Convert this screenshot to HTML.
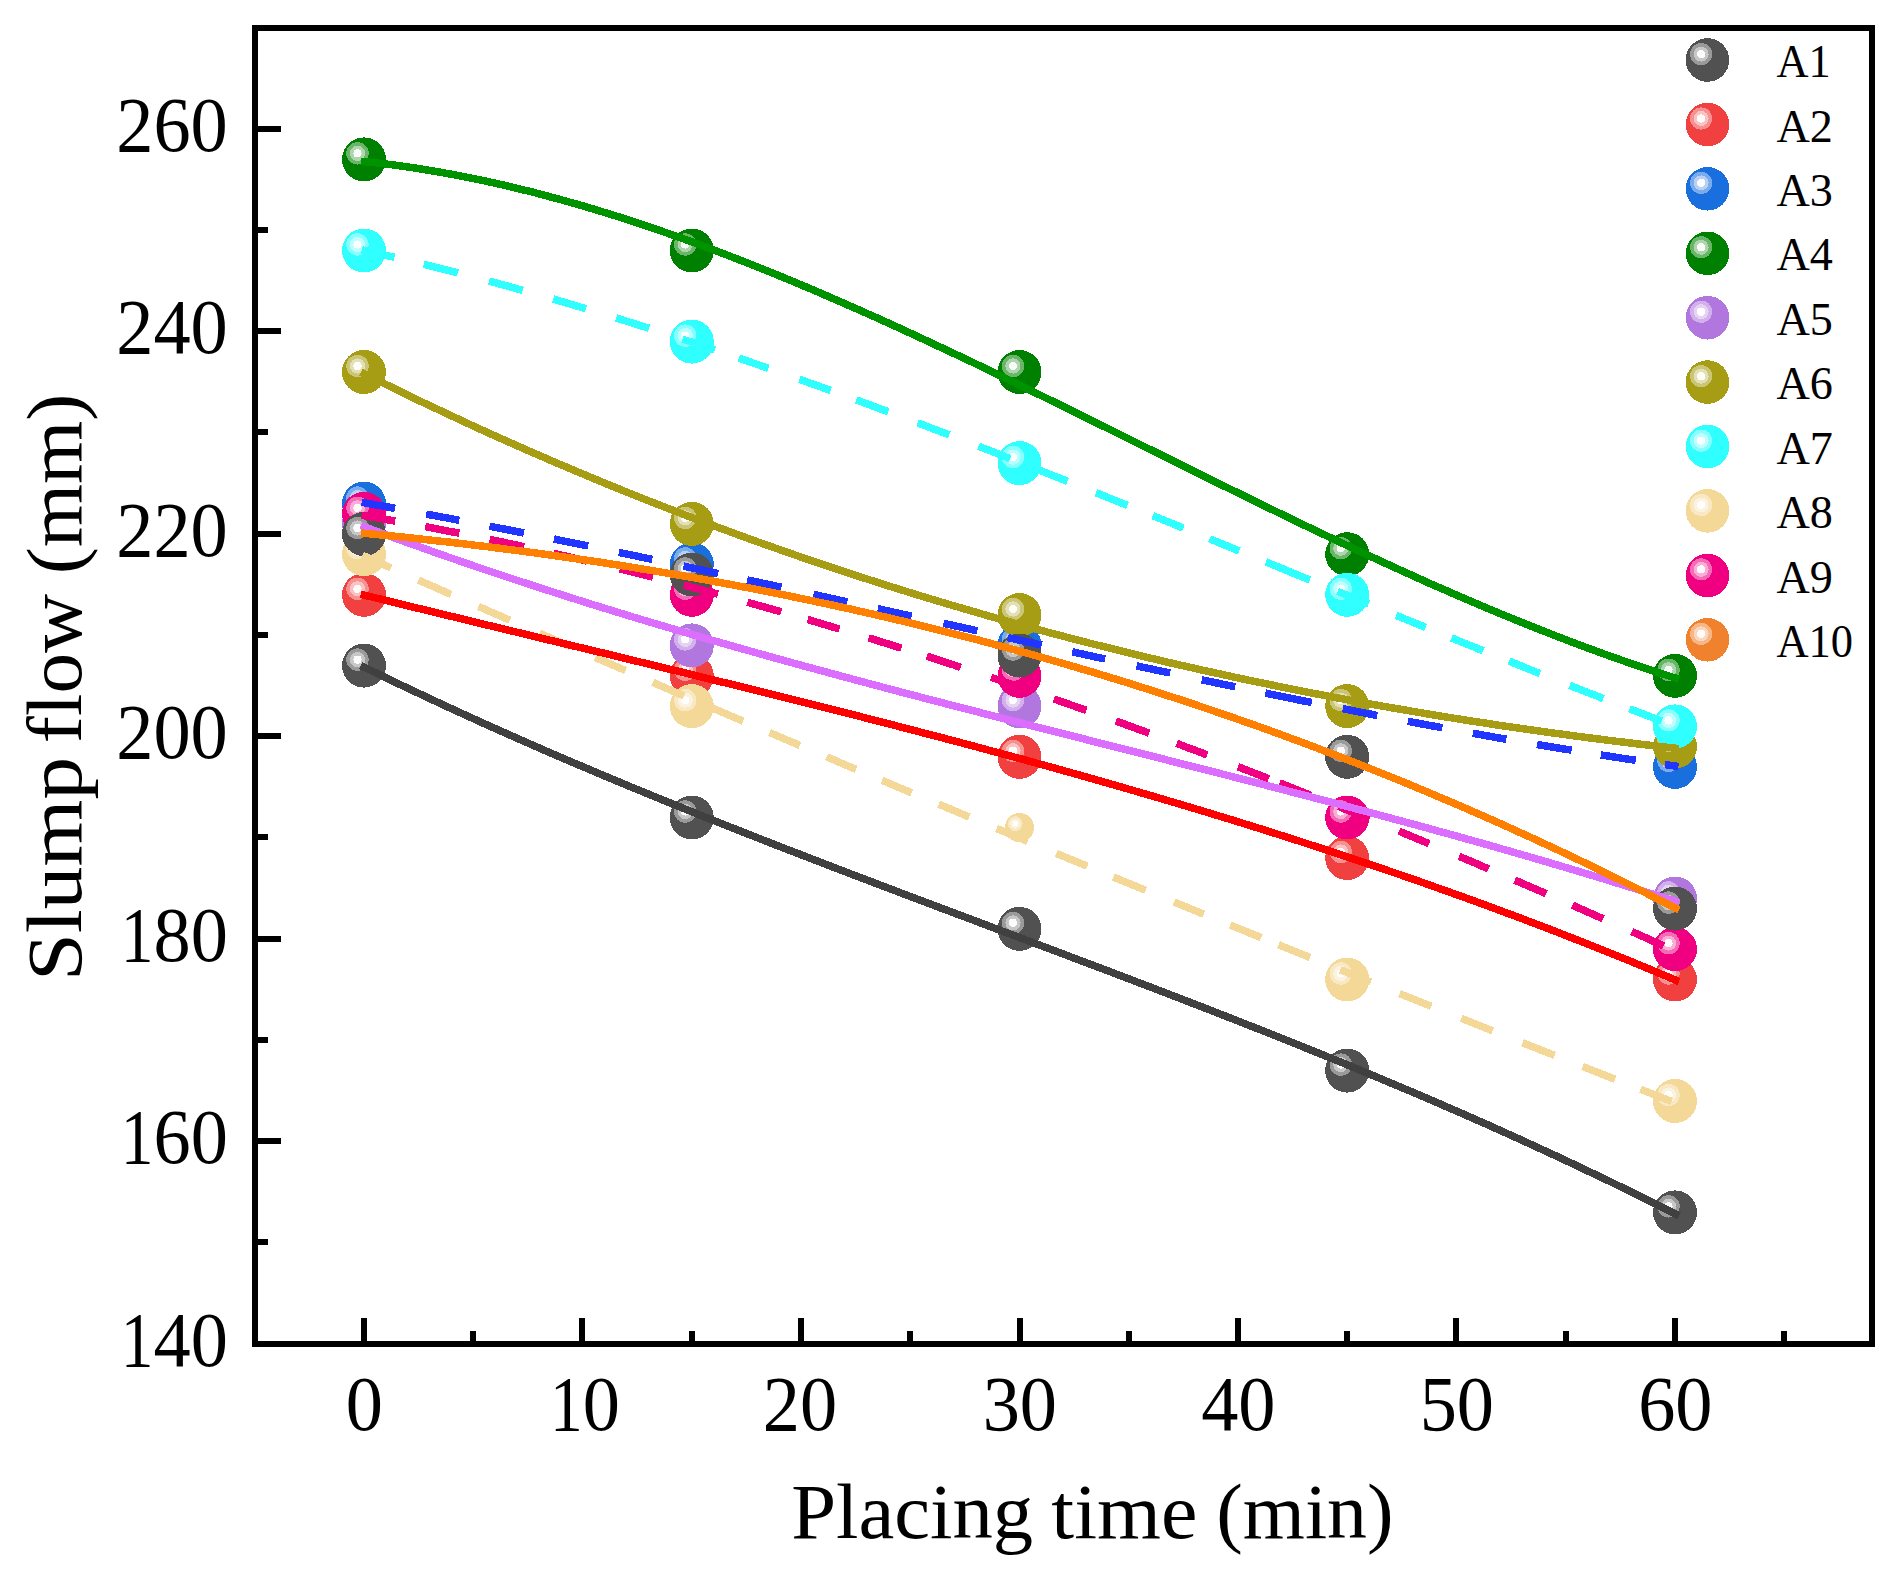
<!DOCTYPE html>
<html lang="en"><head><meta charset="utf-8"><title>Slump flow vs placing time</title>
<style>html,body{margin:0;padding:0;background:#fff}svg{display:block}text{font-family:"Liberation Serif",serif;fill:#000}</style></head><body>
<svg width="1903" height="1572" viewBox="0 0 1903 1572">
<rect width="1903" height="1572" fill="#fff"/>
<g id="markers" shape-rendering="crispEdges">
<g>
<circle cx="364.0" cy="665.6" r="22.0" fill="#515151"/><circle cx="357.5" cy="659.6" r="11.2" fill="#9A9A9A"/><circle cx="357.5" cy="659.6" r="7.6" fill="#C7C7C7"/><circle cx="357.5" cy="659.6" r="4.1" fill="#FCFCFC"/>
<circle cx="691.8" cy="817.5" r="22.0" fill="#515151"/><circle cx="685.2" cy="811.5" r="11.2" fill="#9A9A9A"/><circle cx="685.2" cy="811.5" r="7.6" fill="#C7C7C7"/><circle cx="685.2" cy="811.5" r="4.1" fill="#FCFCFC"/>
<circle cx="1019.5" cy="928.9" r="22.0" fill="#515151"/><circle cx="1013.0" cy="922.9" r="11.2" fill="#9A9A9A"/><circle cx="1013.0" cy="922.9" r="7.6" fill="#C7C7C7"/><circle cx="1013.0" cy="922.9" r="4.1" fill="#FCFCFC"/>
<circle cx="1347.2" cy="1070.6" r="22.0" fill="#515151"/><circle cx="1340.8" cy="1064.6" r="11.2" fill="#9A9A9A"/><circle cx="1340.8" cy="1064.6" r="7.6" fill="#C7C7C7"/><circle cx="1340.8" cy="1064.6" r="4.1" fill="#FCFCFC"/>
<circle cx="1675.0" cy="1212.4" r="22.0" fill="#515151"/><circle cx="1668.5" cy="1206.4" r="11.2" fill="#9A9A9A"/><circle cx="1668.5" cy="1206.4" r="7.6" fill="#C7C7C7"/><circle cx="1668.5" cy="1206.4" r="4.1" fill="#FCFCFC"/>
</g>
<g>
<circle cx="364.0" cy="594.8" r="22.0" fill="#F14040"/><circle cx="357.5" cy="588.8" r="11.2" fill="#F79090"/><circle cx="357.5" cy="588.8" r="7.6" fill="#FBC2C2"/><circle cx="357.5" cy="588.8" r="4.1" fill="#FFFBFB"/>
<circle cx="691.8" cy="675.8" r="22.0" fill="#F14040"/><circle cx="685.2" cy="669.8" r="11.2" fill="#F79090"/><circle cx="685.2" cy="669.8" r="7.6" fill="#FBC2C2"/><circle cx="685.2" cy="669.8" r="4.1" fill="#FFFBFB"/>
<circle cx="1019.5" cy="756.8" r="22.0" fill="#F14040"/><circle cx="1013.0" cy="750.8" r="11.2" fill="#F79090"/><circle cx="1013.0" cy="750.8" r="7.6" fill="#FBC2C2"/><circle cx="1013.0" cy="750.8" r="4.1" fill="#FFFBFB"/>
<circle cx="1347.2" cy="858.0" r="22.0" fill="#F14040"/><circle cx="1340.8" cy="852.0" r="11.2" fill="#F79090"/><circle cx="1340.8" cy="852.0" r="7.6" fill="#FBC2C2"/><circle cx="1340.8" cy="852.0" r="4.1" fill="#FFFBFB"/>
<circle cx="1675.0" cy="979.5" r="22.0" fill="#F14040"/><circle cx="1668.5" cy="973.5" r="11.2" fill="#F79090"/><circle cx="1668.5" cy="973.5" r="7.6" fill="#FBC2C2"/><circle cx="1668.5" cy="973.5" r="4.1" fill="#FFFBFB"/>
</g>
<g>
<circle cx="364.0" cy="503.6" r="22.0" fill="#1A6FDF"/><circle cx="357.5" cy="497.6" r="11.2" fill="#7AABEC"/><circle cx="357.5" cy="497.6" r="7.6" fill="#B6D1F5"/><circle cx="357.5" cy="497.6" r="4.1" fill="#FAFCFE"/>
<circle cx="691.8" cy="564.4" r="22.0" fill="#1A6FDF"/><circle cx="685.2" cy="558.4" r="11.2" fill="#7AABEC"/><circle cx="685.2" cy="558.4" r="7.6" fill="#B6D1F5"/><circle cx="685.2" cy="558.4" r="4.1" fill="#FAFCFE"/>
<circle cx="1019.5" cy="645.4" r="22.0" fill="#1A6FDF"/><circle cx="1013.0" cy="639.4" r="11.2" fill="#7AABEC"/><circle cx="1013.0" cy="639.4" r="7.6" fill="#B6D1F5"/><circle cx="1013.0" cy="639.4" r="4.1" fill="#FAFCFE"/>
<circle cx="1347.2" cy="706.1" r="22.0" fill="#1A6FDF"/><circle cx="1340.8" cy="700.1" r="11.2" fill="#7AABEC"/><circle cx="1340.8" cy="700.1" r="7.6" fill="#B6D1F5"/><circle cx="1340.8" cy="700.1" r="4.1" fill="#FAFCFE"/>
<circle cx="1675.0" cy="766.9" r="22.0" fill="#1A6FDF"/><circle cx="1668.5" cy="760.9" r="11.2" fill="#7AABEC"/><circle cx="1668.5" cy="760.9" r="7.6" fill="#B6D1F5"/><circle cx="1668.5" cy="760.9" r="4.1" fill="#FAFCFE"/>
</g>
<g>
<circle cx="364.0" cy="159.4" r="22.0" fill="#008000"/><circle cx="357.5" cy="153.4" r="11.2" fill="#6BB56B"/><circle cx="357.5" cy="153.4" r="7.6" fill="#ADD6AD"/><circle cx="357.5" cy="153.4" r="4.1" fill="#FAFCFA"/>
<circle cx="691.8" cy="250.5" r="22.0" fill="#008000"/><circle cx="685.2" cy="244.5" r="11.2" fill="#6BB56B"/><circle cx="685.2" cy="244.5" r="7.6" fill="#ADD6AD"/><circle cx="685.2" cy="244.5" r="4.1" fill="#FAFCFA"/>
<circle cx="1019.5" cy="372.0" r="22.0" fill="#008000"/><circle cx="1013.0" cy="366.0" r="11.2" fill="#6BB56B"/><circle cx="1013.0" cy="366.0" r="7.6" fill="#ADD6AD"/><circle cx="1013.0" cy="366.0" r="4.1" fill="#FAFCFA"/>
<circle cx="1347.2" cy="554.2" r="22.0" fill="#008000"/><circle cx="1340.8" cy="548.2" r="11.2" fill="#6BB56B"/><circle cx="1340.8" cy="548.2" r="7.6" fill="#ADD6AD"/><circle cx="1340.8" cy="548.2" r="4.1" fill="#FAFCFA"/>
<circle cx="1675.0" cy="675.8" r="22.0" fill="#008000"/><circle cx="1668.5" cy="669.8" r="11.2" fill="#6BB56B"/><circle cx="1668.5" cy="669.8" r="7.6" fill="#ADD6AD"/><circle cx="1668.5" cy="669.8" r="4.1" fill="#FAFCFA"/>
</g>
<g>
<circle cx="364.0" cy="523.9" r="22.0" fill="#B177DE"/><circle cx="357.5" cy="517.9" r="11.2" fill="#D2B0EC"/><circle cx="357.5" cy="517.9" r="7.6" fill="#E6D3F4"/><circle cx="357.5" cy="517.9" r="4.1" fill="#FDFCFE"/>
<circle cx="691.8" cy="645.4" r="22.0" fill="#B177DE"/><circle cx="685.2" cy="639.4" r="11.2" fill="#D2B0EC"/><circle cx="685.2" cy="639.4" r="7.6" fill="#E6D3F4"/><circle cx="685.2" cy="639.4" r="4.1" fill="#FDFCFE"/>
<circle cx="1019.5" cy="706.1" r="22.0" fill="#B177DE"/><circle cx="1013.0" cy="700.1" r="11.2" fill="#D2B0EC"/><circle cx="1013.0" cy="700.1" r="7.6" fill="#E6D3F4"/><circle cx="1013.0" cy="700.1" r="4.1" fill="#FDFCFE"/>
<circle cx="1347.2" cy="817.5" r="22.0" fill="#B177DE"/><circle cx="1340.8" cy="811.5" r="11.2" fill="#D2B0EC"/><circle cx="1340.8" cy="811.5" r="7.6" fill="#E6D3F4"/><circle cx="1340.8" cy="811.5" r="4.1" fill="#FDFCFE"/>
<circle cx="1675.0" cy="898.5" r="22.0" fill="#B177DE"/><circle cx="1668.5" cy="892.5" r="11.2" fill="#D2B0EC"/><circle cx="1668.5" cy="892.5" r="7.6" fill="#E6D3F4"/><circle cx="1668.5" cy="892.5" r="4.1" fill="#FDFCFE"/>
</g>
<g>
<circle cx="364.0" cy="372.0" r="22.0" fill="#A69D14"/><circle cx="357.5" cy="366.0" r="11.2" fill="#CBC677"/><circle cx="357.5" cy="366.0" r="7.6" fill="#E3E0B4"/><circle cx="357.5" cy="366.0" r="4.1" fill="#FDFDFA"/>
<circle cx="691.8" cy="523.9" r="22.0" fill="#A69D14"/><circle cx="685.2" cy="517.9" r="11.2" fill="#CBC677"/><circle cx="685.2" cy="517.9" r="7.6" fill="#E3E0B4"/><circle cx="685.2" cy="517.9" r="4.1" fill="#FDFDFA"/>
<circle cx="1019.5" cy="615.0" r="22.0" fill="#A69D14"/><circle cx="1013.0" cy="609.0" r="11.2" fill="#CBC677"/><circle cx="1013.0" cy="609.0" r="7.6" fill="#E3E0B4"/><circle cx="1013.0" cy="609.0" r="4.1" fill="#FDFDFA"/>
<circle cx="1347.2" cy="706.1" r="22.0" fill="#A69D14"/><circle cx="1340.8" cy="700.1" r="11.2" fill="#CBC677"/><circle cx="1340.8" cy="700.1" r="7.6" fill="#E3E0B4"/><circle cx="1340.8" cy="700.1" r="4.1" fill="#FDFDFA"/>
<circle cx="1675.0" cy="746.6" r="22.0" fill="#A69D14"/><circle cx="1668.5" cy="740.6" r="11.2" fill="#CBC677"/><circle cx="1668.5" cy="740.6" r="7.6" fill="#E3E0B4"/><circle cx="1668.5" cy="740.6" r="4.1" fill="#FDFDFA"/>
</g>
<g>
<circle cx="364.0" cy="250.5" r="22.0" fill="#30FFFF"/><circle cx="357.5" cy="244.5" r="11.2" fill="#87FFFF"/><circle cx="357.5" cy="244.5" r="7.6" fill="#BDFFFF"/><circle cx="357.5" cy="244.5" r="4.1" fill="#FBFFFF"/>
<circle cx="691.8" cy="341.6" r="22.0" fill="#30FFFF"/><circle cx="685.2" cy="335.6" r="11.2" fill="#87FFFF"/><circle cx="685.2" cy="335.6" r="7.6" fill="#BDFFFF"/><circle cx="685.2" cy="335.6" r="4.1" fill="#FBFFFF"/>
<circle cx="1019.5" cy="463.1" r="22.0" fill="#30FFFF"/><circle cx="1013.0" cy="457.1" r="11.2" fill="#87FFFF"/><circle cx="1013.0" cy="457.1" r="7.6" fill="#BDFFFF"/><circle cx="1013.0" cy="457.1" r="4.1" fill="#FBFFFF"/>
<circle cx="1347.2" cy="594.8" r="22.0" fill="#30FFFF"/><circle cx="1340.8" cy="588.8" r="11.2" fill="#87FFFF"/><circle cx="1340.8" cy="588.8" r="7.6" fill="#BDFFFF"/><circle cx="1340.8" cy="588.8" r="4.1" fill="#FBFFFF"/>
<circle cx="1675.0" cy="726.4" r="22.0" fill="#30FFFF"/><circle cx="1668.5" cy="720.4" r="11.2" fill="#87FFFF"/><circle cx="1668.5" cy="720.4" r="7.6" fill="#BDFFFF"/><circle cx="1668.5" cy="720.4" r="4.1" fill="#FBFFFF"/>
</g>
<g>
<circle cx="364.0" cy="554.2" r="22.0" fill="#F3D898"/><circle cx="357.5" cy="548.2" r="11.2" fill="#F8E8C3"/><circle cx="357.5" cy="548.2" r="7.6" fill="#FBF3DE"/><circle cx="357.5" cy="548.2" r="4.1" fill="#FFFEFD"/>
<circle cx="691.8" cy="706.1" r="22.0" fill="#F3D898"/><circle cx="685.2" cy="700.1" r="11.2" fill="#F8E8C3"/><circle cx="685.2" cy="700.1" r="7.6" fill="#FBF3DE"/><circle cx="685.2" cy="700.1" r="4.1" fill="#FFFEFD"/>
<circle cx="1019.5" cy="827.6" r="14.5" fill="#F3D898"/><circle cx="1015.2" cy="823.7" r="7.4" fill="#F8E8C3"/><circle cx="1015.2" cy="823.7" r="5.0" fill="#FBF3DE"/><circle cx="1015.2" cy="823.7" r="2.7" fill="#FFFEFD"/>
<circle cx="1347.2" cy="979.5" r="22.0" fill="#F3D898"/><circle cx="1340.8" cy="973.5" r="11.2" fill="#F8E8C3"/><circle cx="1340.8" cy="973.5" r="7.6" fill="#FBF3DE"/><circle cx="1340.8" cy="973.5" r="4.1" fill="#FFFEFD"/>
<circle cx="1675.0" cy="1101.0" r="22.0" fill="#F3D898"/><circle cx="1668.5" cy="1095.0" r="11.2" fill="#F8E8C3"/><circle cx="1668.5" cy="1095.0" r="7.6" fill="#FBF3DE"/><circle cx="1668.5" cy="1095.0" r="4.1" fill="#FFFEFD"/>
</g>
<g>
<circle cx="364.0" cy="513.8" r="22.0" fill="#F00080"/><circle cx="357.5" cy="507.8" r="11.2" fill="#F66BB5"/><circle cx="357.5" cy="507.8" r="7.6" fill="#FAADD6"/><circle cx="357.5" cy="507.8" r="4.1" fill="#FFFAFC"/>
<circle cx="691.8" cy="594.8" r="22.0" fill="#F00080"/><circle cx="685.2" cy="588.8" r="11.2" fill="#F66BB5"/><circle cx="685.2" cy="588.8" r="7.6" fill="#FAADD6"/><circle cx="685.2" cy="588.8" r="4.1" fill="#FFFAFC"/>
<circle cx="1019.5" cy="675.8" r="22.0" fill="#F00080"/><circle cx="1013.0" cy="669.8" r="11.2" fill="#F66BB5"/><circle cx="1013.0" cy="669.8" r="7.6" fill="#FAADD6"/><circle cx="1013.0" cy="669.8" r="4.1" fill="#FFFAFC"/>
<circle cx="1347.2" cy="817.5" r="22.0" fill="#F00080"/><circle cx="1340.8" cy="811.5" r="11.2" fill="#F66BB5"/><circle cx="1340.8" cy="811.5" r="7.6" fill="#FAADD6"/><circle cx="1340.8" cy="811.5" r="4.1" fill="#FFFAFC"/>
<circle cx="1675.0" cy="949.1" r="22.0" fill="#F00080"/><circle cx="1668.5" cy="943.1" r="11.2" fill="#F66BB5"/><circle cx="1668.5" cy="943.1" r="7.6" fill="#FAADD6"/><circle cx="1668.5" cy="943.1" r="4.1" fill="#FFFAFC"/>
</g>
<g>
<circle cx="364.0" cy="534.0" r="22.0" fill="#515151"/><circle cx="357.5" cy="528.0" r="11.2" fill="#9A9A9A"/><circle cx="357.5" cy="528.0" r="7.6" fill="#C7C7C7"/><circle cx="357.5" cy="528.0" r="4.1" fill="#FCFCFC"/>
<circle cx="691.8" cy="574.5" r="22.0" fill="#515151"/><circle cx="685.2" cy="568.5" r="11.2" fill="#9A9A9A"/><circle cx="685.2" cy="568.5" r="7.6" fill="#C7C7C7"/><circle cx="685.2" cy="568.5" r="4.1" fill="#FCFCFC"/>
<circle cx="1019.5" cy="655.5" r="22.0" fill="#515151"/><circle cx="1013.0" cy="649.5" r="11.2" fill="#9A9A9A"/><circle cx="1013.0" cy="649.5" r="7.6" fill="#C7C7C7"/><circle cx="1013.0" cy="649.5" r="4.1" fill="#FCFCFC"/>
<circle cx="1347.2" cy="756.8" r="22.0" fill="#515151"/><circle cx="1340.8" cy="750.8" r="11.2" fill="#9A9A9A"/><circle cx="1340.8" cy="750.8" r="7.6" fill="#C7C7C7"/><circle cx="1340.8" cy="750.8" r="4.1" fill="#FCFCFC"/>
<circle cx="1675.0" cy="908.6" r="22.0" fill="#515151"/><circle cx="1668.5" cy="902.6" r="11.2" fill="#9A9A9A"/><circle cx="1668.5" cy="902.6" r="7.6" fill="#C7C7C7"/><circle cx="1668.5" cy="902.6" r="4.1" fill="#FCFCFC"/>
</g>
</g>
<g id="lines" fill="none" stroke-width="7.5" stroke-linejoin="round" shape-rendering="crispEdges">
<g stroke="#2035FF">
<polyline points="361.7,502.3 368.4,503.5 375.1,504.7 381.7,505.9 388.4,507.1 395.1,508.4"/>
<polyline points="426.2,514.1 432.8,515.3 439.4,516.6 446.1,517.8 452.7,519.1 459.3,520.3"/>
<polyline points="489.5,526.2 496.4,527.5 503.3,528.9 510.1,530.2 517.0,531.6 523.9,533.0"/>
<polyline points="553.9,539.0 560.7,540.4 567.6,541.8 574.4,543.2 581.3,544.6 588.1,546.0"/>
<polyline points="618.9,552.4 625.6,553.8 632.3,555.2 638.9,556.6 645.6,558.0 652.3,559.4"/>
<polyline points="683.5,566.1 690.4,567.6 697.3,569.0 704.3,570.5 711.2,572.0 718.1,573.5"/>
<polyline points="747.2,579.9 754.0,581.3 760.9,582.8 767.7,584.3 774.6,585.8 781.4,587.3"/>
<polyline points="813.5,594.4 820.2,595.9 827.0,597.4 833.7,598.9 840.5,600.4 847.2,601.9"/>
<polyline points="877.8,608.7 884.6,610.2 891.4,611.7 898.1,613.2 904.9,614.7 911.7,616.2"/>
<polyline points="943.4,623.3 950.2,624.8 957.0,626.3 963.7,627.8 970.5,629.3 977.3,630.8"/>
<polyline points="1007.9,637.6 1014.7,639.1 1021.5,640.6 1028.2,642.1 1035.0,643.6 1041.8,645.1"/>
<polyline points="1072.2,651.8 1078.8,653.2 1085.4,654.7 1091.9,656.1 1098.5,657.6 1105.1,659.0"/>
<polyline points="1136.5,665.8 1143.2,667.3 1149.9,668.7 1156.7,670.2 1163.4,671.6 1170.1,673.0"/>
<polyline points="1201.7,679.8 1208.4,681.2 1215.1,682.6 1221.8,684.0 1228.5,685.4 1235.2,686.8"/>
<polyline points="1265.4,693.1 1274.7,695.0 1284.0,696.9 1293.2,698.8 1302.5,700.7 1311.8,702.5"/>
<polyline points="1342.7,708.7 1349.6,710.1 1356.5,711.4 1363.5,712.8 1370.4,714.1 1377.3,715.5"/>
<polyline points="1407.8,721.3 1414.7,722.6 1421.6,723.9 1428.6,725.2 1435.5,726.5 1442.4,727.8"/>
<polyline points="1472.8,733.3 1479.5,734.5 1486.2,735.7 1493.0,736.9 1499.7,738.1 1506.4,739.2"/>
<polyline points="1537.0,744.5 1543.9,745.7 1550.8,746.8 1557.8,748.0 1564.7,749.1 1571.6,750.2"/>
<polyline points="1600.8,754.9 1607.8,756.0 1614.8,757.1 1621.8,758.2 1628.8,759.2 1635.8,760.3"/>
<polyline points="1665.0,764.6 1667.7,765.0 1670.4,765.4 1673.1,765.7 1675.8,766.1 1678.5,766.5"/>
</g>
<g stroke="#30FFFF">
<polyline points="361.8,249.9 368.4,251.3 374.9,252.8 381.4,254.3 387.9,255.8 394.5,257.3"/>
<polyline points="423.6,264.3 430.5,266.0 437.3,267.7 444.2,269.4 451.0,271.1 457.9,272.9"/>
<polyline points="489.0,281.1 495.8,282.9 502.5,284.8 509.3,286.6 516.0,288.5 522.8,290.4"/>
<polyline points="553.2,299.0 559.7,301.0 566.3,302.9 572.8,304.8 579.4,306.8 585.9,308.7"/>
<polyline points="616.2,318.0 622.8,320.0 629.4,322.1 635.9,324.2 642.5,326.2 649.1,328.3"/>
<polyline points="682.6,339.2 689.0,341.3 695.5,343.4 701.9,345.6 708.4,347.7 714.8,349.9"/>
<polyline points="738.9,358.1 744.8,360.1 750.7,362.2 756.7,364.2 762.6,366.3 768.5,368.3"/>
<polyline points="799.5,379.3 805.7,381.5 812.0,383.8 818.2,386.0 824.5,388.3 830.7,390.5"/>
<polyline points="856.3,399.9 862.7,402.3 869.1,404.6 875.4,407.0 881.8,409.4 888.2,411.7"/>
<polyline points="917.6,422.8 924.0,425.2 930.3,427.7 936.6,430.1 942.9,432.5 949.3,434.9"/>
<polyline points="978.5,446.2 984.8,448.7 991.1,451.1 997.5,453.6 1003.8,456.1 1010.1,458.6"/>
<polyline points="1036.0,468.8 1042.3,471.3 1048.6,473.8 1054.9,476.3 1061.2,478.8 1067.5,481.3"/>
<polyline points="1096.0,492.7 1102.3,495.2 1108.6,497.8 1114.9,500.3 1121.2,502.9 1127.5,505.4"/>
<polyline points="1152.8,515.7 1158.9,518.1 1165.0,520.6 1171.1,523.1 1177.2,525.6 1183.3,528.1"/>
<polyline points="1209.6,538.8 1215.6,541.3 1221.5,543.7 1227.4,546.1 1233.3,548.6 1239.3,551.0"/>
<polyline points="1265.9,561.9 1274.7,565.5 1283.5,569.1 1292.3,572.8 1301.1,576.4 1309.9,580.0"/>
<polyline points="1337.7,591.4 1343.9,594.0 1350.1,596.5 1356.2,599.0 1362.4,601.5 1368.6,604.1"/>
<polyline points="1396.0,615.3 1402.0,617.7 1407.9,620.2 1413.8,622.6 1419.7,625.0 1425.7,627.4"/>
<polyline points="1451.5,637.9 1457.8,640.5 1464.2,643.1 1470.5,645.6 1476.9,648.2 1483.2,650.8"/>
<polyline points="1509.0,661.1 1515.2,663.6 1521.4,666.1 1527.6,668.6 1533.8,671.1 1540.0,673.6"/>
<polyline points="1569.6,685.3 1576.3,688.0 1583.1,690.6 1589.8,693.3 1596.6,695.9 1603.3,698.6"/>
<polyline points="1629.5,708.8 1636.0,711.3 1642.4,713.7 1648.8,716.2 1655.2,718.7 1661.7,721.1"/>
</g>
<g stroke="#F3D898">
<polyline points="362.5,555.3 368.2,557.9 373.9,560.4 379.6,562.9 385.3,565.4 391.0,567.9"/>
<polyline points="418.5,580.1 425.0,583.0 431.5,585.8 438.0,588.7 444.5,591.6 451.0,594.4"/>
<polyline points="478.5,606.5 484.8,609.3 491.0,612.0 497.3,614.7 503.5,617.5 509.8,620.2"/>
<polyline points="539.5,633.2 545.7,635.9 551.9,638.6 558.1,641.3 564.3,644.0 570.5,646.7"/>
<polyline points="595.4,657.5 601.4,660.2 607.5,662.8 613.5,665.4 619.6,668.0 625.6,670.6"/>
<polyline points="652.8,682.4 659.0,685.1 665.3,687.8 671.5,690.5 677.8,693.2 684.0,695.9"/>
<polyline points="711.5,707.7 717.8,710.4 724.1,713.1 730.5,715.8 736.8,718.5 743.1,721.2"/>
<polyline points="769.6,732.5 775.6,735.1 781.7,737.7 787.8,740.3 793.9,742.9 799.9,745.5"/>
<polyline points="826.6,756.8 832.5,759.3 838.4,761.8 844.3,764.4 850.2,766.9 856.1,769.4"/>
<polyline points="882.1,780.3 888.0,782.8 893.9,785.4 899.9,787.9 905.8,790.4 911.7,792.9"/>
<polyline points="938.7,804.2 944.8,806.8 950.9,809.3 957.0,811.9 963.1,814.5 969.2,817.0"/>
<polyline points="996.6,828.5 1002.8,831.1 1009.0,833.7 1015.2,836.2 1021.4,838.8 1027.6,841.4"/>
<polyline points="1056.4,853.4 1062.6,856.0 1068.8,858.6 1075.0,861.1 1081.2,863.7 1087.4,866.2"/>
<polyline points="1113.4,877.0 1119.9,879.7 1126.3,882.3 1132.7,885.0 1139.1,887.6 1145.6,890.3"/>
<polyline points="1174.0,902.0 1180.0,904.4 1185.9,906.9 1191.8,909.3 1197.7,911.7 1203.7,914.2"/>
<polyline points="1230.2,925.0 1236.4,927.6 1242.6,930.1 1248.8,932.6 1255.0,935.1 1261.2,937.7"/>
<polyline points="1278.5,944.7 1284.8,947.3 1291.1,949.8 1297.4,952.4 1303.7,954.9 1310.0,957.5"/>
<polyline points="1340.3,969.8 1346.4,972.2 1352.5,974.7 1358.6,977.1 1364.7,979.6 1370.8,982.1"/>
<polyline points="1399.6,993.6 1405.9,996.2 1412.3,998.7 1418.6,1001.3 1425.0,1003.8 1431.3,1006.4"/>
<polyline points="1461.2,1018.3 1467.5,1020.8 1473.8,1023.3 1480.1,1025.8 1486.4,1028.4 1492.7,1030.9"/>
<polyline points="1522.6,1042.7 1529.0,1045.3 1535.4,1047.8 1541.8,1050.4 1548.2,1052.9 1554.6,1055.4"/>
<polyline points="1582.7,1066.5 1589.2,1069.1 1595.7,1071.6 1602.2,1074.2 1608.7,1076.8 1615.2,1079.3"/>
<polyline points="1640.5,1089.2 1646.7,1091.7 1652.9,1094.1 1659.2,1096.5 1665.4,1099.0 1671.6,1101.4"/>
</g>
<g stroke="#F00080">
<polyline points="361.6,515.2 368.3,516.4 375.0,517.5 381.8,518.7 388.5,519.9 395.2,521.1"/>
<polyline points="425.2,526.6 432.0,527.9 438.8,529.2 445.7,530.6 452.5,531.9 459.3,533.2"/>
<polyline points="489.6,539.4 496.5,540.9 503.4,542.3 510.4,543.8 517.3,545.3 524.2,546.8"/>
<polyline points="553.8,553.4 560.5,554.9 567.2,556.4 573.8,558.0 580.5,559.5 587.2,561.1"/>
<polyline points="619.8,568.9 626.4,570.6 633.1,572.2 639.7,573.8 646.4,575.5 653.0,577.2"/>
<polyline points="683.7,585.1 690.5,586.9 697.4,588.7 704.2,590.5 711.1,592.4 717.9,594.2"/>
<polyline points="747.4,602.3 754.2,604.2 760.9,606.1 767.7,608.0 774.4,609.9 781.2,611.9"/>
<polyline points="807.6,619.5 813.9,621.4 820.3,623.3 826.7,625.2 833.1,627.1 839.4,629.0"/>
<polyline points="868.6,637.9 875.2,639.9 881.7,642.0 888.3,644.0 894.8,646.1 901.4,648.1"/>
<polyline points="926.8,656.2 933.5,658.4 940.3,660.6 947.1,662.8 953.9,665.0 960.6,667.3"/>
<polyline points="991.2,677.4 997.7,679.6 1004.2,681.8 1010.8,684.0 1017.3,686.3 1023.8,688.5"/>
<polyline points="1053.8,698.9 1060.3,701.2 1066.8,703.5 1073.4,705.8 1079.9,708.1 1086.4,710.4"/>
<polyline points="1115.9,721.0 1122.6,723.4 1129.2,725.9 1135.9,728.3 1142.5,730.7 1149.2,733.2"/>
<polyline points="1176.6,743.4 1182.7,745.7 1188.8,748.0 1195.0,750.3 1201.1,752.6 1207.2,754.9"/>
<polyline points="1237.9,766.7 1244.1,769.1 1250.3,771.5 1256.4,773.9 1262.6,776.3 1268.8,778.7"/>
<polyline points="1279.4,782.9 1285.6,785.3 1291.9,787.8 1298.1,790.3 1304.4,792.8 1310.6,795.2"/>
<polyline points="1338.4,806.4 1344.6,808.9 1350.9,811.5 1357.1,814.0 1363.4,816.5 1369.6,819.1"/>
<polyline points="1399.0,831.2 1405.1,833.7 1411.1,836.2 1417.1,838.7 1423.1,841.2 1429.2,843.7"/>
<polyline points="1459.1,856.3 1465.0,858.8 1470.9,861.3 1476.8,863.8 1482.7,866.4 1488.6,868.9"/>
<polyline points="1514.7,880.1 1521.0,882.8 1527.3,885.5 1533.6,888.3 1539.9,891.0 1546.2,893.8"/>
<polyline points="1572.4,905.2 1578.6,907.9 1584.7,910.6 1590.9,913.4 1597.0,916.1 1603.2,918.8"/>
<polyline points="1631.7,931.5 1638.1,934.4 1644.4,937.2 1650.8,940.1 1657.1,942.9 1663.5,945.8"/>
</g>
<polyline points="360.8,665.5 370.8,670.4 380.8,675.2 390.8,680.1 400.7,684.9 410.7,689.6 420.7,694.3 430.7,699.0 440.7,703.7 450.7,708.3 460.7,712.9 470.6,717.4 480.6,722.0 490.6,726.5 500.6,730.9 510.6,735.4 520.6,739.8 530.6,744.2 540.6,748.6 550.5,752.9 560.5,757.2 570.5,761.5 580.5,765.7 590.5,770.0 600.5,774.2 610.5,778.4 620.4,782.5 630.4,786.7 640.4,790.8 650.4,794.9 660.4,799.0 670.4,803.1 680.4,807.1 690.4,811.2 700.3,815.2 710.3,819.2 720.3,823.1 730.3,827.1 740.3,831.0 750.3,835.0 760.3,838.9 770.2,842.8 780.2,846.7 790.2,850.6 800.2,854.4 810.2,858.3 820.2,862.1 830.2,866.0 840.1,869.8 850.1,873.6 860.1,877.4 870.1,881.2 880.1,885.0 890.1,888.8 900.1,892.6 910.0,896.4 920.0,900.1 930.0,903.9 940.0,907.7 950.0,911.4 960.0,915.2 970.0,918.9 980.0,922.7 989.9,926.4 999.9,930.2 1009.9,934.0 1019.9,937.7 1029.9,941.5 1039.9,945.2 1049.9,949.0 1059.8,952.7 1069.8,956.5 1079.8,960.3 1089.8,964.0 1099.8,967.8 1109.8,971.6 1119.8,975.4 1129.8,979.2 1139.7,983.0 1149.7,986.8 1159.7,990.6 1169.7,994.5 1179.7,998.3 1189.7,1002.2 1199.7,1006.0 1209.6,1009.9 1219.6,1013.8 1229.6,1017.7 1239.6,1021.6 1249.6,1025.6 1259.6,1029.5 1269.6,1033.5 1279.5,1037.4 1289.5,1041.4 1299.5,1045.4 1309.5,1049.5 1319.5,1053.5 1329.5,1057.6 1339.5,1061.6 1349.5,1065.7 1359.4,1069.9 1369.4,1074.0 1379.4,1078.2 1389.4,1082.4 1399.4,1086.6 1409.4,1090.8 1419.4,1095.0 1429.3,1099.3 1439.3,1103.6 1449.3,1108.0 1459.3,1112.3 1469.3,1116.7 1479.3,1121.1 1489.3,1125.5 1499.2,1130.0 1509.2,1134.5 1519.2,1139.0 1529.2,1143.6 1539.2,1148.2 1549.2,1152.8 1559.2,1157.4 1569.1,1162.1 1579.1,1166.8 1589.1,1171.6 1599.1,1176.3 1609.1,1181.1 1619.1,1186.0 1629.1,1190.9 1639.1,1195.8 1649.0,1200.8 1659.0,1205.8 1669.0,1210.8 1679.0,1215.9" stroke="#404040"/>
<polyline points="360.8,594.3 370.8,596.7 380.8,599.2 390.8,601.6 400.7,604.1 410.7,606.5 420.7,608.9 430.7,611.4 440.7,613.8 450.7,616.2 460.7,618.6 470.6,621.1 480.6,623.5 490.6,625.9 500.6,628.3 510.6,630.7 520.6,633.1 530.6,635.6 540.6,638.0 550.5,640.4 560.5,642.8 570.5,645.2 580.5,647.6 590.5,650.0 600.5,652.4 610.5,654.8 620.4,657.3 630.4,659.7 640.4,662.1 650.4,664.5 660.4,667.0 670.4,669.4 680.4,671.8 690.4,674.3 700.3,676.7 710.3,679.1 720.3,681.6 730.3,684.0 740.3,686.5 750.3,689.0 760.3,691.4 770.2,693.9 780.2,696.4 790.2,698.9 800.2,701.4 810.2,703.9 820.2,706.4 830.2,708.9 840.1,711.4 850.1,714.0 860.1,716.5 870.1,719.1 880.1,721.6 890.1,724.2 900.1,726.8 910.0,729.4 920.0,732.0 930.0,734.6 940.0,737.2 950.0,739.8 960.0,742.5 970.0,745.1 980.0,747.8 989.9,750.5 999.9,753.2 1009.9,755.9 1019.9,758.6 1029.9,761.3 1039.9,764.1 1049.9,766.8 1059.8,769.6 1069.8,772.4 1079.8,775.2 1089.8,778.0 1099.8,780.9 1109.8,783.7 1119.8,786.6 1129.8,789.5 1139.7,792.4 1149.7,795.3 1159.7,798.2 1169.7,801.2 1179.7,804.1 1189.7,807.1 1199.7,810.1 1209.6,813.1 1219.6,816.2 1229.6,819.2 1239.6,822.3 1249.6,825.4 1259.6,828.5 1269.6,831.7 1279.5,834.8 1289.5,838.0 1299.5,841.2 1309.5,844.5 1319.5,847.7 1329.5,851.0 1339.5,854.3 1349.5,857.6 1359.4,860.9 1369.4,864.3 1379.4,867.7 1389.4,871.1 1399.4,874.5 1409.4,877.9 1419.4,881.4 1429.3,884.9 1439.3,888.5 1449.3,892.0 1459.3,895.6 1469.3,899.2 1479.3,902.8 1489.3,906.5 1499.2,910.2 1509.2,913.9 1519.2,917.6 1529.2,921.4 1539.2,925.2 1549.2,929.0 1559.2,932.9 1569.1,936.8 1579.1,940.7 1589.1,944.6 1599.1,948.6 1609.1,952.6 1619.1,956.6 1629.1,960.7 1639.1,964.8 1649.0,968.9 1659.0,973.1 1669.0,977.3 1679.0,981.5" stroke="#FF0000"/>
<polyline points="360.8,161.2 370.8,162.3 380.8,163.4 390.8,164.6 400.7,166.0 410.7,167.4 420.7,168.9 430.7,170.6 440.7,172.3 450.7,174.1 460.7,176.0 470.6,178.0 480.6,180.0 490.6,182.2 500.6,184.4 510.6,186.8 520.6,189.2 530.6,191.6 540.6,194.2 550.5,196.9 560.5,199.6 570.5,202.4 580.5,205.2 590.5,208.2 600.5,211.2 610.5,214.3 620.4,217.4 630.4,220.6 640.4,223.9 650.4,227.3 660.4,230.7 670.4,234.2 680.4,237.7 690.4,241.3 700.3,245.0 710.3,248.7 720.3,252.5 730.3,256.3 740.3,260.2 750.3,264.1 760.3,268.1 770.2,272.1 780.2,276.2 790.2,280.3 800.2,284.5 810.2,288.7 820.2,293.0 830.2,297.3 840.1,301.6 850.1,306.0 860.1,310.4 870.1,314.9 880.1,319.3 890.1,323.9 900.1,328.4 910.0,333.0 920.0,337.6 930.0,342.3 940.0,347.0 950.0,351.7 960.0,356.4 970.0,361.1 980.0,365.9 989.9,370.7 999.9,375.5 1009.9,380.4 1019.9,385.2 1029.9,390.1 1039.9,395.0 1049.9,399.9 1059.8,404.8 1069.8,409.7 1079.8,414.6 1089.8,419.5 1099.8,424.5 1109.8,429.4 1119.8,434.4 1129.8,439.4 1139.7,444.3 1149.7,449.3 1159.7,454.2 1169.7,459.2 1179.7,464.1 1189.7,469.1 1199.7,474.0 1209.6,479.0 1219.6,483.9 1229.6,488.8 1239.6,493.7 1249.6,498.6 1259.6,503.5 1269.6,508.4 1279.5,513.2 1289.5,518.0 1299.5,522.9 1309.5,527.7 1319.5,532.4 1329.5,537.2 1339.5,541.9 1349.5,546.6 1359.4,551.3 1369.4,555.9 1379.4,560.5 1389.4,565.1 1399.4,569.7 1409.4,574.2 1419.4,578.7 1429.3,583.2 1439.3,587.6 1449.3,591.9 1459.3,596.3 1469.3,600.6 1479.3,604.8 1489.3,609.1 1499.2,613.2 1509.2,617.3 1519.2,621.4 1529.2,625.4 1539.2,629.4 1549.2,633.3 1559.2,637.2 1569.1,641.0 1579.1,644.8 1589.1,648.5 1599.1,652.2 1609.1,655.8 1619.1,659.3 1629.1,662.8 1639.1,666.2 1649.0,669.5 1659.0,672.8 1669.0,676.0 1679.0,679.2" stroke="#009300"/>
<polyline points="360.8,525.4 370.8,529.2 380.8,532.9 390.8,536.5 400.7,540.2 410.7,543.8 420.7,547.3 430.7,550.9 440.7,554.4 450.7,557.9 460.7,561.3 470.6,564.8 480.6,568.2 490.6,571.5 500.6,574.9 510.6,578.2 520.6,581.5 530.6,584.8 540.6,588.0 550.5,591.2 560.5,594.4 570.5,597.6 580.5,600.8 590.5,603.9 600.5,607.0 610.5,610.1 620.4,613.1 630.4,616.2 640.4,619.2 650.4,622.2 660.4,625.2 670.4,628.1 680.4,631.1 690.4,634.0 700.3,636.9 710.3,639.8 720.3,642.6 730.3,645.5 740.3,648.3 750.3,651.1 760.3,653.9 770.2,656.7 780.2,659.5 790.2,662.2 800.2,665.0 810.2,667.7 820.2,670.4 830.2,673.1 840.1,675.8 850.1,678.5 860.1,681.2 870.1,683.8 880.1,686.5 890.1,689.1 900.1,691.8 910.0,694.4 920.0,697.0 930.0,699.6 940.0,702.2 950.0,704.8 960.0,707.4 970.0,709.9 980.0,712.5 989.9,715.1 999.9,717.6 1009.9,720.2 1019.9,722.7 1029.9,725.3 1039.9,727.8 1049.9,730.3 1059.8,732.9 1069.8,735.4 1079.8,737.9 1089.8,740.5 1099.8,743.0 1109.8,745.5 1119.8,748.0 1129.8,750.6 1139.7,753.1 1149.7,755.6 1159.7,758.1 1169.7,760.7 1179.7,763.2 1189.7,765.8 1199.7,768.3 1209.6,770.8 1219.6,773.4 1229.6,775.9 1239.6,778.5 1249.6,781.1 1259.6,783.6 1269.6,786.2 1279.5,788.8 1289.5,791.4 1299.5,794.0 1309.5,796.6 1319.5,799.2 1329.5,801.8 1339.5,804.4 1349.5,807.1 1359.4,809.7 1369.4,812.4 1379.4,815.1 1389.4,817.8 1399.4,820.5 1409.4,823.2 1419.4,825.9 1429.3,828.6 1439.3,831.4 1449.3,834.1 1459.3,836.9 1469.3,839.7 1479.3,842.5 1489.3,845.3 1499.2,848.2 1509.2,851.0 1519.2,853.9 1529.2,856.8 1539.2,859.7 1549.2,862.6 1559.2,865.6 1569.1,868.5 1579.1,871.5 1589.1,874.5 1599.1,877.5 1609.1,880.6 1619.1,883.7 1629.1,886.8 1639.1,889.9 1649.0,893.0 1659.0,896.2 1669.0,899.3 1679.0,902.5" stroke="#DC6EFF"/>
<polyline points="360.8,372.0 370.8,377.0 380.8,381.9 390.8,386.8 400.7,391.7 410.7,396.6 420.7,401.4 430.7,406.1 440.7,410.8 450.7,415.5 460.7,420.2 470.6,424.8 480.6,429.4 490.6,433.9 500.6,438.4 510.6,442.8 520.6,447.3 530.6,451.7 540.6,456.0 550.5,460.3 560.5,464.6 570.5,468.8 580.5,473.0 590.5,477.2 600.5,481.4 610.5,485.5 620.4,489.5 630.4,493.5 640.4,497.5 650.4,501.5 660.4,505.4 670.4,509.3 680.4,513.2 690.4,517.0 700.3,520.8 710.3,524.5 720.3,528.2 730.3,531.9 740.3,535.6 750.3,539.2 760.3,542.8 770.2,546.3 780.2,549.8 790.2,553.3 800.2,556.8 810.2,560.2 820.2,563.6 830.2,566.9 840.1,570.2 850.1,573.5 860.1,576.8 870.1,580.0 880.1,583.2 890.1,586.4 900.1,589.5 910.0,592.6 920.0,595.7 930.0,598.7 940.0,601.7 950.0,604.7 960.0,607.6 970.0,610.5 980.0,613.4 989.9,616.3 999.9,619.1 1009.9,621.9 1019.9,624.7 1029.9,627.4 1039.9,630.1 1049.9,632.8 1059.8,635.4 1069.8,638.0 1079.8,640.6 1089.8,643.2 1099.8,645.7 1109.8,648.2 1119.8,650.7 1129.8,653.1 1139.7,655.6 1149.7,658.0 1159.7,660.3 1169.7,662.7 1179.7,665.0 1189.7,667.2 1199.7,669.5 1209.6,671.7 1219.6,673.9 1229.6,676.1 1239.6,678.3 1249.6,680.4 1259.6,682.5 1269.6,684.5 1279.5,686.6 1289.5,688.6 1299.5,690.6 1309.5,692.6 1319.5,694.5 1329.5,696.4 1339.5,698.3 1349.5,700.2 1359.4,702.0 1369.4,703.8 1379.4,705.6 1389.4,707.4 1399.4,709.1 1409.4,710.8 1419.4,712.5 1429.3,714.2 1439.3,715.9 1449.3,717.5 1459.3,719.1 1469.3,720.7 1479.3,722.2 1489.3,723.7 1499.2,725.3 1509.2,726.7 1519.2,728.2 1529.2,729.6 1539.2,731.1 1549.2,732.5 1559.2,733.8 1569.1,735.2 1579.1,736.5 1589.1,737.8 1599.1,739.1 1609.1,740.4 1619.1,741.6 1629.1,742.8 1639.1,744.1 1649.0,745.2 1659.0,746.4 1669.0,747.5 1679.0,748.7" stroke="#A69D14"/>
<polyline points="360.8,533.0 370.8,533.9 380.8,534.9 390.8,535.9 400.7,536.9 410.7,537.9 420.7,539.0 430.7,540.1 440.7,541.2 450.7,542.3 460.7,543.5 470.6,544.7 480.6,545.9 490.6,547.1 500.6,548.4 510.6,549.7 520.6,551.0 530.6,552.3 540.6,553.7 550.5,555.0 560.5,556.5 570.5,557.9 580.5,559.3 590.5,560.8 600.5,562.3 610.5,563.9 620.4,565.4 630.4,567.0 640.4,568.7 650.4,570.3 660.4,572.0 670.4,573.7 680.4,575.4 690.4,577.1 700.3,578.9 710.3,580.7 720.3,582.6 730.3,584.4 740.3,586.3 750.3,588.2 760.3,590.2 770.2,592.2 780.2,594.2 790.2,596.2 800.2,598.3 810.2,600.4 820.2,602.5 830.2,604.6 840.1,606.8 850.1,609.0 860.1,611.3 870.1,613.5 880.1,615.8 890.1,618.2 900.1,620.5 910.0,622.9 920.0,625.3 930.0,627.8 940.0,630.3 950.0,632.8 960.0,635.3 970.0,637.9 980.0,640.5 989.9,643.2 999.9,645.8 1009.9,648.5 1019.9,651.3 1029.9,654.0 1039.9,656.8 1049.9,659.7 1059.8,662.5 1069.8,665.4 1079.8,668.4 1089.8,671.3 1099.8,674.3 1109.8,677.4 1119.8,680.4 1129.8,683.5 1139.7,686.7 1149.7,689.8 1159.7,693.0 1169.7,696.3 1179.7,699.5 1189.7,702.8 1199.7,706.2 1209.6,709.5 1219.6,713.0 1229.6,716.4 1239.6,719.9 1249.6,723.4 1259.6,726.9 1269.6,730.5 1279.5,734.1 1289.5,737.8 1299.5,741.5 1309.5,745.2 1319.5,749.0 1329.5,752.8 1339.5,756.6 1349.5,760.5 1359.4,764.4 1369.4,768.4 1379.4,772.3 1389.4,776.4 1399.4,780.4 1409.4,784.5 1419.4,788.7 1429.3,792.8 1439.3,797.1 1449.3,801.3 1459.3,805.6 1469.3,809.9 1479.3,814.3 1489.3,818.7 1499.2,823.1 1509.2,827.6 1519.2,832.2 1529.2,836.7 1539.2,841.3 1549.2,846.0 1559.2,850.6 1569.1,855.4 1579.1,860.1 1589.1,864.9 1599.1,869.8 1609.1,874.7 1619.1,879.6 1629.1,884.5 1639.1,889.5 1649.0,894.6 1659.0,899.7 1669.0,904.8 1679.0,910.0" stroke="#FF8000"/>
</g>
<g id="axes" fill="#000" shape-rendering="crispEdges">
<rect x="252" y="25" width="1623" height="6"/>
<rect x="252" y="1341" width="1623" height="6"/>
<rect x="252" y="25" width="6" height="1322"/>
<rect x="1869" y="25" width="6" height="1322"/>
<rect x="258" y="1239" width="10" height="6"/>
<rect x="258" y="1138" width="23" height="6"/>
<rect x="258" y="1037" width="10" height="6"/>
<rect x="258" y="936" width="23" height="6"/>
<rect x="258" y="834" width="10" height="6"/>
<rect x="258" y="733" width="23" height="6"/>
<rect x="258" y="632" width="10" height="6"/>
<rect x="258" y="531" width="23" height="6"/>
<rect x="258" y="429" width="10" height="6"/>
<rect x="258" y="328" width="23" height="6"/>
<rect x="258" y="227" width="10" height="6"/>
<rect x="258" y="126" width="23" height="6"/>
<rect x="361" y="1318" width="6" height="23"/>
<rect x="470" y="1331" width="6" height="10"/>
<rect x="579" y="1318" width="6" height="23"/>
<rect x="689" y="1331" width="6" height="10"/>
<rect x="798" y="1318" width="6" height="23"/>
<rect x="907" y="1331" width="6" height="10"/>
<rect x="1017" y="1318" width="6" height="23"/>
<rect x="1126" y="1331" width="6" height="10"/>
<rect x="1235" y="1318" width="6" height="23"/>
<rect x="1344" y="1331" width="6" height="10"/>
<rect x="1453" y="1318" width="6" height="23"/>
<rect x="1563" y="1331" width="6" height="10"/>
<rect x="1672" y="1318" width="6" height="23"/>
<rect x="1781" y="1331" width="6" height="10"/>
</g>
<g id="ticklabels" font-size="77.3">
<text transform="translate(227.8 1365.6) scale(0.962 1)" text-anchor="end"><tspan textLength="34" lengthAdjust="spacingAndGlyphs">1</tspan>40</text>
<text transform="translate(227.8 1163.1) scale(0.962 1)" text-anchor="end"><tspan textLength="34" lengthAdjust="spacingAndGlyphs">1</tspan>60</text>
<text transform="translate(227.8 960.6) scale(0.962 1)" text-anchor="end"><tspan textLength="34" lengthAdjust="spacingAndGlyphs">1</tspan>80</text>
<text transform="translate(227.8 758.1) scale(0.962 1)" text-anchor="end">200</text>
<text transform="translate(227.8 555.6) scale(0.962 1)" text-anchor="end">220</text>
<text transform="translate(227.8 353.1) scale(0.962 1)" text-anchor="end">240</text>
<text transform="translate(227.8 150.6) scale(0.962 1)" text-anchor="end">260</text>
<text transform="translate(364.3 1429.6) scale(0.962 1)" text-anchor="middle">0</text>
<text transform="translate(585.0 1429.6) scale(0.962 1)" text-anchor="middle"><tspan textLength="34" lengthAdjust="spacingAndGlyphs">1</tspan>0</text>
<text transform="translate(800.0 1429.6) scale(0.962 1)" text-anchor="middle">20</text>
<text transform="translate(1019.8 1429.6) scale(0.962 1)" text-anchor="middle">30</text>
<text transform="translate(1238.3 1429.6) scale(0.962 1)" text-anchor="middle">40</text>
<text transform="translate(1456.8 1429.6) scale(0.962 1)" text-anchor="middle">50</text>
<text transform="translate(1675.3 1429.6) scale(0.962 1)" text-anchor="middle">60</text>
</g>
<text id="xtitle" y="1537.9" font-size="77.7"><tspan x="791.16" textLength="241.87" lengthAdjust="spacingAndGlyphs">Placing</tspan> <tspan x="1051.38" textLength="146.09" lengthAdjust="spacingAndGlyphs">time</tspan> <tspan x="1216.27" textLength="177.26" lengthAdjust="spacingAndGlyphs">(min)</tspan></text>
<text id="ytitle" transform="translate(80.9 975.2) rotate(-90)" y="0" font-size="77.7"><tspan x="-5.83" textLength="224.35" lengthAdjust="spacingAndGlyphs">Slump</tspan> <tspan x="231.95" textLength="149.25" lengthAdjust="spacingAndGlyphs">flow</tspan> <tspan x="400.88" textLength="180.64" lengthAdjust="spacingAndGlyphs">(mm)</tspan></text>
<g id="legend" shape-rendering="crispEdges">
<circle cx="1707.5" cy="60.0" r="21.8" fill="#515151"/><circle cx="1701.1" cy="54.1" r="11.1" fill="#9A9A9A"/><circle cx="1701.1" cy="54.1" r="7.5" fill="#C7C7C7"/><circle cx="1701.1" cy="54.1" r="4.1" fill="#FCFCFC"/>
<text x="1776.4" y="77.1" font-size="46.4" textLength="54.2" lengthAdjust="spacingAndGlyphs">A1</text>
<circle cx="1707.5" cy="124.4" r="21.8" fill="#F14040"/><circle cx="1701.1" cy="118.5" r="11.1" fill="#F79090"/><circle cx="1701.1" cy="118.5" r="7.5" fill="#FBC2C2"/><circle cx="1701.1" cy="118.5" r="4.1" fill="#FFFBFB"/>
<text x="1776.4" y="141.5" font-size="46.4" textLength="56.4" lengthAdjust="spacingAndGlyphs">A2</text>
<circle cx="1707.5" cy="188.8" r="21.8" fill="#1A6FDF"/><circle cx="1701.1" cy="182.9" r="11.1" fill="#7AABEC"/><circle cx="1701.1" cy="182.9" r="7.5" fill="#B6D1F5"/><circle cx="1701.1" cy="182.9" r="4.1" fill="#FAFCFE"/>
<text x="1776.4" y="205.9" font-size="46.4" textLength="56.4" lengthAdjust="spacingAndGlyphs">A3</text>
<circle cx="1707.5" cy="253.3" r="21.8" fill="#008000"/><circle cx="1701.1" cy="247.3" r="11.1" fill="#6BB56B"/><circle cx="1701.1" cy="247.3" r="7.5" fill="#ADD6AD"/><circle cx="1701.1" cy="247.3" r="4.1" fill="#FAFCFA"/>
<text x="1776.4" y="270.4" font-size="46.4" textLength="56.4" lengthAdjust="spacingAndGlyphs">A4</text>
<circle cx="1707.5" cy="317.7" r="21.8" fill="#B177DE"/><circle cx="1701.1" cy="311.7" r="11.1" fill="#D2B0EC"/><circle cx="1701.1" cy="311.7" r="7.5" fill="#E6D3F4"/><circle cx="1701.1" cy="311.7" r="4.1" fill="#FDFCFE"/>
<text x="1776.4" y="334.8" font-size="46.4" textLength="56.4" lengthAdjust="spacingAndGlyphs">A5</text>
<circle cx="1707.5" cy="382.1" r="21.8" fill="#A69D14"/><circle cx="1701.1" cy="376.2" r="11.1" fill="#CBC677"/><circle cx="1701.1" cy="376.2" r="7.5" fill="#E3E0B4"/><circle cx="1701.1" cy="376.2" r="4.1" fill="#FDFDFA"/>
<text x="1776.4" y="399.2" font-size="46.4" textLength="56.4" lengthAdjust="spacingAndGlyphs">A6</text>
<circle cx="1707.5" cy="446.5" r="21.8" fill="#30FFFF"/><circle cx="1701.1" cy="440.6" r="11.1" fill="#87FFFF"/><circle cx="1701.1" cy="440.6" r="7.5" fill="#BDFFFF"/><circle cx="1701.1" cy="440.6" r="4.1" fill="#FBFFFF"/>
<text x="1776.4" y="463.6" font-size="46.4" textLength="56.4" lengthAdjust="spacingAndGlyphs">A7</text>
<circle cx="1707.5" cy="510.9" r="21.8" fill="#F3D898"/><circle cx="1701.1" cy="505.0" r="11.1" fill="#F8E8C3"/><circle cx="1701.1" cy="505.0" r="7.5" fill="#FBF3DE"/><circle cx="1701.1" cy="505.0" r="4.1" fill="#FFFEFD"/>
<text x="1776.4" y="528.0" font-size="46.4" textLength="56.4" lengthAdjust="spacingAndGlyphs">A8</text>
<circle cx="1707.5" cy="575.4" r="21.8" fill="#F00080"/><circle cx="1701.1" cy="569.4" r="11.1" fill="#F66BB5"/><circle cx="1701.1" cy="569.4" r="7.5" fill="#FAADD6"/><circle cx="1701.1" cy="569.4" r="4.1" fill="#FFFAFC"/>
<text x="1776.4" y="592.5" font-size="46.4" textLength="56.4" lengthAdjust="spacingAndGlyphs">A9</text>
<circle cx="1707.5" cy="639.8" r="21.8" fill="#F0822D"/><circle cx="1701.1" cy="633.8" r="11.1" fill="#F6B685"/><circle cx="1701.1" cy="633.8" r="7.5" fill="#FAD7BC"/><circle cx="1701.1" cy="633.8" r="4.1" fill="#FFFCFB"/>
<text x="1776.4" y="656.9" font-size="46.4" textLength="76.7" lengthAdjust="spacingAndGlyphs">A10</text>
</g>
</svg></body></html>
